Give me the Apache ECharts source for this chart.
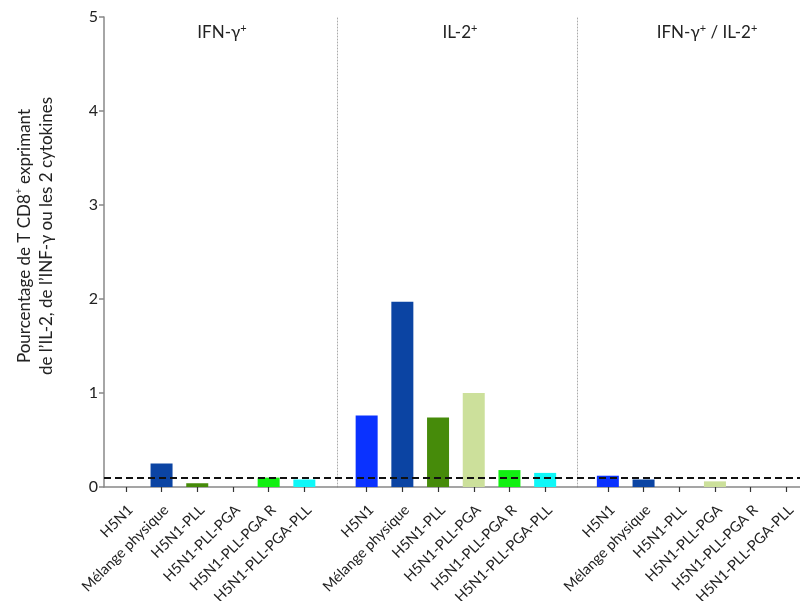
<!DOCTYPE html>
<html><head><meta charset="utf-8">
<script src="https://cdn.jsdelivr.net/npm/echarts@6/dist/echarts.min.js"></script>
<style>html,body{margin:0;padding:0;background:#fff}#c{width:800px;height:601px}</style>
</head><body><div id="c"></div>
<script>
const categories = ['H5N1','Mélange physique','H5N1-PLL','H5N1-PLL-PGA','H5N1-PLL-PGA R','H5N1-PLL-PGA-PLL'];
const groupTitles = ['IFN-γ', 'IL-2', 'IFN-γ/IL-2'];
const ifnValues = [0, 0.25, 0.04, 0, 0.10, 0.08];
const il2Values = [0.76, 1.97, 0.74, 1.00, 0.18, 0.15];
const bothValues = [0.12, 0.08, 0, 0.06, 0, 0];
const threshold = 0.1;
const yTicks = [0, 1, 2, 3, 4, 5];
const barColors = ['#0A32FF','#0B44A3','#468B0A','#CCE09B','#12F012','#0FF8F8'];

const FONT = 'Lato';
const groups = [ifnValues, il2Values, bothValues];
const gridLefts = [108, 348.8, 590];
const bandW = 35.7;
const chart = echarts.init(document.getElementById('c'));

const grids = [{left:104, right:0, top:17, bottom:114, containLabel:false, outerBoundsMode:'none'}];
const xAxes = [{gridIndex:0, type:'category', data:[''], axisLine:{show:true, lineStyle:{color:'#888', width:1.5}}, axisTick:{show:false}, axisLabel:{show:false}}];
const yAxes = [{gridIndex:0, type:'value', min:yTicks[0], max:yTicks[yTicks.length-1], interval:1,
  axisLine:{show:true, lineStyle:{color:'#888', width:1.5}},
  axisTick:{show:true, length:5, lineStyle:{color:'#888', width:1.5}},
  axisLabel:{fontFamily:FONT, fontSize:16, color:'#222', margin:6},
  splitLine:{show:false},
  name:'{a|Pourcentage de T CD8}{s|+}{a| exprimant}\n{a|de l’IL-2, de l’INF-γ ou les 2 cytokines}',
  nameLocation:'middle', nameRotate:90, nameGap:46,
  nameTextStyle:{padding:[0,0,0,32], rich:{a:{fontFamily:FONT, fontSize:17, color:'#222', lineHeight:22}, s:{fontFamily:FONT, fontSize:10, color:'#222', verticalAlign:'top', lineHeight:22}}, align:'center'}
}];
const series = [{type:'line', xAxisIndex:0, yAxisIndex:0, data:[null], symbol:'none', z:10,
  markLine:{silent:true, symbol:'none', label:{show:false}, animation:false,
    lineStyle:{color:'#111', type:[7,4], width:2}, data:[{yAxis:threshold}]}}];

groups.forEach((vals, g) => {
  const gi = g + 1;
  grids.push({left:gridLefts[g], width:bandW*6, top:17, bottom:114, containLabel:false, outerBoundsMode:'none'});
  xAxes.push({gridIndex:gi, type:'category', data:categories,
    axisLine:{show:false}, axisTick:{show:true, alignWithLabel:true, length:5, lineStyle:{color:'#333', width:1.2}},
    axisLabel:{interval:0, rotate:45, margin:16, formatter: v => '{a|' + v + '}',
      rich:{a:{fontFamily:FONT, fontSize:14.5, color:'#222', padding:[13,0,0,0]}}}});
  yAxes.push({gridIndex:gi, type:'value', min:0, max:5, interval:1, show: g > 0, offset: g===1 ? 12 : 13,
    axisLine:{show:true, lineStyle:{color:'#aaa', type:[1,2], width:1}},
    axisTick:{show:false}, axisLabel:{show:false}, splitLine:{show:false}});
  series.push({type:'bar', xAxisIndex:gi, yAxisIndex:gi, barWidth:22, z:2,
    data: vals.map((v,i)=>({value:v, itemStyle:{color:barColors[i]}}))});
});

const titleCenters = [217, 455, 702];
const titles = groupTitles.map((t, i) => {
  let text;
  if (i === 2) text = '{a|IFN-γ}{s|+}{a| / IL-2}{s|+}';
  else text = '{a|' + t + '}{s|+}';
  return {text, left: titleCenters[i], top: 18, textAlign:'center',
    textStyle:{fontWeight:'normal', rich:{a:{fontFamily:FONT, fontSize:17, fontWeight:'normal', color:'#222'}, s:{fontFamily:FONT, fontSize:11, fontWeight:'normal', color:'#222', verticalAlign:'top', padding:[0,0,8,0]}}}};
});

chart.setOption({animation:false, backgroundColor:'#fff', title:titles, grid:grids, xAxis:xAxes, yAxis:yAxes, series});
</script></body></html>
